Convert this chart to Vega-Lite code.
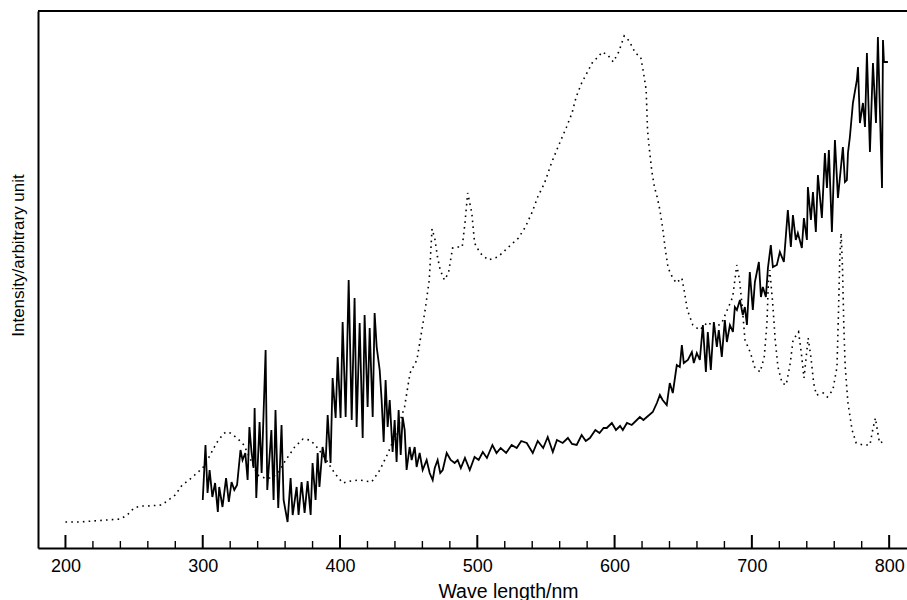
{
  "$schema": "https://vega.github.io/schema/vega-lite/v6.json",
  "width": 869,
  "height": 537,
  "autosize": {"type": "none"},
  "padding": {"left": 38, "top": 11, "right": 0, "bottom": 52},
  "background": "white",
  "config": {
    "view": {"stroke": null},
    "font": "Liberation Sans",
    "axis": {"domainColor": "black", "tickColor": "black", "labelColor": "black", "titleColor": "black", "grid": false}
  },
  "datasets": {
    "ticks": [
      {"wl": 200, "kind": "major"}, {"wl": 220, "kind": "minor"}, {"wl": 240, "kind": "minor"}, {"wl": 260, "kind": "minor"}, {"wl": 280, "kind": "minor"},
      {"wl": 300, "kind": "major"}, {"wl": 320, "kind": "minor"}, {"wl": 340, "kind": "minor"}, {"wl": 360, "kind": "minor"}, {"wl": 380, "kind": "minor"},
      {"wl": 400, "kind": "major"}, {"wl": 420, "kind": "minor"}, {"wl": 440, "kind": "minor"}, {"wl": 460, "kind": "minor"}, {"wl": 480, "kind": "minor"},
      {"wl": 500, "kind": "major"}, {"wl": 520, "kind": "minor"}, {"wl": 540, "kind": "minor"}, {"wl": 560, "kind": "minor"}, {"wl": 580, "kind": "minor"},
      {"wl": 600, "kind": "major"}, {"wl": 620, "kind": "minor"}, {"wl": 640, "kind": "minor"}, {"wl": 660, "kind": "minor"}, {"wl": 680, "kind": "minor"},
      {"wl": 700, "kind": "major"}, {"wl": 720, "kind": "minor"}, {"wl": 740, "kind": "minor"}, {"wl": 760, "kind": "minor"}, {"wl": 780, "kind": "minor"},
      {"wl": 800, "kind": "major"}
    ],
    "dotted": [
      {"wl": 200, "v": 26}, {"wl": 210, "v": 26}, {"wl": 220, "v": 27}, {"wl": 230, "v": 28}, {"wl": 240, "v": 29},
      {"wl": 245, "v": 33}, {"wl": 250, "v": 40}, {"wl": 255, "v": 42}, {"wl": 260, "v": 42}, {"wl": 270, "v": 43},
      {"wl": 275, "v": 48}, {"wl": 280, "v": 53}, {"wl": 285, "v": 63}, {"wl": 290, "v": 68}, {"wl": 295, "v": 74},
      {"wl": 300, "v": 80}, {"wl": 305, "v": 92}, {"wl": 310, "v": 105}, {"wl": 315, "v": 114}, {"wl": 317, "v": 116},
      {"wl": 320, "v": 115}, {"wl": 325, "v": 110}, {"wl": 330, "v": 103}, {"wl": 335, "v": 88}, {"wl": 340, "v": 73},
      {"wl": 345, "v": 70}, {"wl": 350, "v": 70}, {"wl": 355, "v": 75}, {"wl": 360, "v": 87}, {"wl": 367, "v": 101},
      {"wl": 373, "v": 109}, {"wl": 378, "v": 108}, {"wl": 382, "v": 103}, {"wl": 390, "v": 88}, {"wl": 396, "v": 75},
      {"wl": 402, "v": 65}, {"wl": 408, "v": 67}, {"wl": 414, "v": 68}, {"wl": 423, "v": 66}, {"wl": 429, "v": 78},
      {"wl": 435, "v": 95}, {"wl": 441, "v": 115}, {"wl": 447, "v": 141}, {"wl": 451, "v": 175}, {"wl": 456, "v": 188},
      {"wl": 460, "v": 221}, {"wl": 462, "v": 238}, {"wl": 465, "v": 268}, {"wl": 467, "v": 319}, {"wl": 469, "v": 310},
      {"wl": 471, "v": 291}, {"wl": 473, "v": 278}, {"wl": 476, "v": 268}, {"wl": 479, "v": 275}, {"wl": 482, "v": 300},
      {"wl": 486, "v": 301}, {"wl": 489, "v": 301}, {"wl": 491, "v": 325}, {"wl": 493, "v": 355}, {"wl": 496, "v": 335},
      {"wl": 498, "v": 305}, {"wl": 502, "v": 295}, {"wl": 508, "v": 288}, {"wl": 515, "v": 291}, {"wl": 522, "v": 300},
      {"wl": 530, "v": 310}, {"wl": 535, "v": 321}, {"wl": 540, "v": 336}, {"wl": 544, "v": 351}, {"wl": 549, "v": 365},
      {"wl": 554, "v": 385}, {"wl": 560, "v": 405}, {"wl": 565, "v": 421}, {"wl": 569, "v": 435}, {"wl": 572, "v": 451},
      {"wl": 576, "v": 465}, {"wl": 581, "v": 478}, {"wl": 584, "v": 486}, {"wl": 588, "v": 491}, {"wl": 591, "v": 496},
      {"wl": 595, "v": 493}, {"wl": 599, "v": 486}, {"wl": 603, "v": 496}, {"wl": 607, "v": 512}, {"wl": 610, "v": 508},
      {"wl": 613, "v": 501}, {"wl": 615, "v": 495}, {"wl": 619, "v": 491}, {"wl": 621, "v": 476}, {"wl": 623, "v": 458},
      {"wl": 624, "v": 418}, {"wl": 625, "v": 403}, {"wl": 627, "v": 378}, {"wl": 629, "v": 361}, {"wl": 631, "v": 351},
      {"wl": 633, "v": 338}, {"wl": 635, "v": 320}, {"wl": 637, "v": 298}, {"wl": 639, "v": 280}, {"wl": 642, "v": 271},
      {"wl": 645, "v": 265}, {"wl": 649, "v": 270}, {"wl": 651, "v": 255}, {"wl": 653, "v": 238}, {"wl": 657, "v": 223},
      {"wl": 662, "v": 218}, {"wl": 668, "v": 226}, {"wl": 673, "v": 220}, {"wl": 678, "v": 225}, {"wl": 683, "v": 241},
      {"wl": 686, "v": 251}, {"wl": 689, "v": 283}, {"wl": 691, "v": 268}, {"wl": 693, "v": 241}, {"wl": 695, "v": 208},
      {"wl": 699, "v": 195}, {"wl": 702, "v": 181}, {"wl": 706, "v": 176}, {"wl": 709, "v": 191}, {"wl": 711, "v": 225},
      {"wl": 712, "v": 265}, {"wl": 713, "v": 278}, {"wl": 715, "v": 248}, {"wl": 717, "v": 208}, {"wl": 719, "v": 181},
      {"wl": 722, "v": 165}, {"wl": 725, "v": 163}, {"wl": 728, "v": 185}, {"wl": 730, "v": 208}, {"wl": 734, "v": 216},
      {"wl": 736, "v": 195}, {"wl": 738, "v": 170}, {"wl": 741, "v": 210}, {"wl": 743, "v": 191}, {"wl": 745, "v": 165},
      {"wl": 747, "v": 153}, {"wl": 752, "v": 155}, {"wl": 755, "v": 151}, {"wl": 759, "v": 158}, {"wl": 762, "v": 181},
      {"wl": 763, "v": 231}, {"wl": 764, "v": 288}, {"wl": 765, "v": 315}, {"wl": 766, "v": 281}, {"wl": 767, "v": 221},
      {"wl": 768, "v": 181}, {"wl": 770, "v": 145}, {"wl": 773, "v": 118}, {"wl": 776, "v": 105}, {"wl": 781, "v": 103},
      {"wl": 786, "v": 103}, {"wl": 788, "v": 118}, {"wl": 790, "v": 130}, {"wl": 791, "v": 121}, {"wl": 793, "v": 105},
      {"wl": 795, "v": 106}
    ],
    "solid": [
      {"wl": 300, "v": 48}, {"wl": 302, "v": 103}, {"wl": 303.5, "v": 55}, {"wl": 305, "v": 78}, {"wl": 307, "v": 51},
      {"wl": 309, "v": 65}, {"wl": 311, "v": 36}, {"wl": 312, "v": 61}, {"wl": 314.4, "v": 41}, {"wl": 317, "v": 70},
      {"wl": 319, "v": 46}, {"wl": 321, "v": 66}, {"wl": 323, "v": 58}, {"wl": 325, "v": 63}, {"wl": 327.5, "v": 98},
      {"wl": 329, "v": 88}, {"wl": 331, "v": 95}, {"wl": 332.7, "v": 68}, {"wl": 334, "v": 121}, {"wl": 335.6, "v": 95},
      {"wl": 337, "v": 80}, {"wl": 337.8, "v": 140}, {"wl": 339, "v": 50}, {"wl": 341.4, "v": 126}, {"wl": 342.9, "v": 75},
      {"wl": 345.8, "v": 198}, {"wl": 347, "v": 58}, {"wl": 350, "v": 118}, {"wl": 351.6, "v": 48}, {"wl": 353, "v": 138},
      {"wl": 355, "v": 40}, {"wl": 357.4, "v": 123}, {"wl": 358.9, "v": 48}, {"wl": 361.8, "v": 26}, {"wl": 364, "v": 70},
      {"wl": 365.5, "v": 33}, {"wl": 368.4, "v": 61}, {"wl": 369.8, "v": 33}, {"wl": 372, "v": 66}, {"wl": 374.2, "v": 35},
      {"wl": 376.4, "v": 67}, {"wl": 378.6, "v": 33}, {"wl": 380, "v": 85}, {"wl": 382.2, "v": 48}, {"wl": 383.7, "v": 95},
      {"wl": 385, "v": 61}, {"wl": 387.3, "v": 101}, {"wl": 389.5, "v": 85}, {"wl": 391, "v": 133}, {"wl": 393.1, "v": 85},
      {"wl": 394.6, "v": 170}, {"wl": 396.8, "v": 130}, {"wl": 398.3, "v": 191}, {"wl": 400.4, "v": 130}, {"wl": 401.9, "v": 226},
      {"wl": 404.1, "v": 131}, {"wl": 406.3, "v": 268}, {"wl": 408.5, "v": 128}, {"wl": 410.6, "v": 250}, {"wl": 412.1, "v": 121},
      {"wl": 414.3, "v": 225}, {"wl": 416.5, "v": 110}, {"wl": 417.9, "v": 233}, {"wl": 420.1, "v": 141}, {"wl": 421.6, "v": 220},
      {"wl": 423.8, "v": 131}, {"wl": 425.2, "v": 235}, {"wl": 426.7, "v": 201}, {"wl": 428.9, "v": 178}, {"wl": 430.3, "v": 148},
      {"wl": 431.8, "v": 106}, {"wl": 433.2, "v": 168}, {"wl": 434.7, "v": 121}, {"wl": 436.2, "v": 148}, {"wl": 438.3, "v": 96},
      {"wl": 439.8, "v": 128}, {"wl": 441.2, "v": 86}, {"wl": 442.7, "v": 138}, {"wl": 444.2, "v": 93}, {"wl": 445.6, "v": 131},
      {"wl": 447.1, "v": 118}, {"wl": 448.5, "v": 78}, {"wl": 450.7, "v": 101}, {"wl": 452.2, "v": 88}, {"wl": 454.4, "v": 101},
      {"wl": 455.8, "v": 81}, {"wl": 458, "v": 95}, {"wl": 460.2, "v": 78}, {"wl": 463.1, "v": 88}, {"wl": 465.3, "v": 75},
      {"wl": 467.5, "v": 68}, {"wl": 469, "v": 80}, {"wl": 471.1, "v": 88}, {"wl": 473, "v": 75}, {"wl": 474.8, "v": 78},
      {"wl": 477.7, "v": 95}, {"wl": 480.6, "v": 88}, {"wl": 483.5, "v": 85}, {"wl": 485.7, "v": 88}, {"wl": 488, "v": 80},
      {"wl": 491, "v": 90}, {"wl": 494.5, "v": 78}, {"wl": 498, "v": 91}, {"wl": 501, "v": 88}, {"wl": 504, "v": 96},
      {"wl": 507, "v": 90}, {"wl": 511, "v": 103}, {"wl": 514, "v": 95}, {"wl": 517, "v": 100}, {"wl": 521, "v": 95},
      {"wl": 525, "v": 103}, {"wl": 528.7, "v": 100}, {"wl": 532, "v": 107}, {"wl": 536, "v": 105}, {"wl": 540.4, "v": 95},
      {"wl": 544, "v": 107}, {"wl": 548, "v": 100}, {"wl": 551.3, "v": 111}, {"wl": 555, "v": 96}, {"wl": 558, "v": 108},
      {"wl": 562.2, "v": 105}, {"wl": 566, "v": 110}, {"wl": 569, "v": 104}, {"wl": 572.4, "v": 103}, {"wl": 576, "v": 113},
      {"wl": 579, "v": 107}, {"wl": 582, "v": 110}, {"wl": 586, "v": 118}, {"wl": 589, "v": 115}, {"wl": 592, "v": 120},
      {"wl": 594.3, "v": 120}, {"wl": 598, "v": 125}, {"wl": 601, "v": 118}, {"wl": 604, "v": 122}, {"wl": 606, "v": 118},
      {"wl": 609, "v": 125}, {"wl": 612.5, "v": 123}, {"wl": 616.2, "v": 128}, {"wl": 618.4, "v": 131}, {"wl": 621, "v": 128},
      {"wl": 623.5, "v": 131}, {"wl": 627.8, "v": 136}, {"wl": 630.8, "v": 145}, {"wl": 633, "v": 153}, {"wl": 635, "v": 148},
      {"wl": 638, "v": 143}, {"wl": 640.2, "v": 165}, {"wl": 642.4, "v": 155}, {"wl": 645.3, "v": 183}, {"wl": 647.5, "v": 181},
      {"wl": 649, "v": 203}, {"wl": 650.4, "v": 185}, {"wl": 653.4, "v": 188}, {"wl": 656.3, "v": 196}, {"wl": 657.7, "v": 185},
      {"wl": 659.9, "v": 195}, {"wl": 662.1, "v": 188}, {"wl": 664.3, "v": 223}, {"wl": 666.5, "v": 176}, {"wl": 667.9, "v": 216},
      {"wl": 670.1, "v": 178}, {"wl": 672.3, "v": 226}, {"wl": 674.5, "v": 201}, {"wl": 675.9, "v": 218}, {"wl": 678.1, "v": 191},
      {"wl": 680.3, "v": 228}, {"wl": 681.8, "v": 206}, {"wl": 684, "v": 223}, {"wl": 686.2, "v": 216}, {"wl": 687.6, "v": 241},
      {"wl": 689.1, "v": 238}, {"wl": 691.3, "v": 248}, {"wl": 693.4, "v": 233}, {"wl": 694.9, "v": 241}, {"wl": 696.4, "v": 223},
      {"wl": 698.5, "v": 276}, {"wl": 700.7, "v": 238}, {"wl": 702.2, "v": 266}, {"wl": 705.1, "v": 286}, {"wl": 706.6, "v": 251},
      {"wl": 708, "v": 261}, {"wl": 710.2, "v": 251}, {"wl": 711.7, "v": 280}, {"wl": 713.8, "v": 303}, {"wl": 715.3, "v": 281},
      {"wl": 718.2, "v": 283}, {"wl": 720.4, "v": 296}, {"wl": 723.3, "v": 286}, {"wl": 726.2, "v": 338}, {"wl": 728.4, "v": 301},
      {"wl": 729.9, "v": 333}, {"wl": 732, "v": 308}, {"wl": 733.5, "v": 315}, {"wl": 736.4, "v": 300}, {"wl": 737.9, "v": 330},
      {"wl": 740.1, "v": 308}, {"wl": 740.8, "v": 361}, {"wl": 743, "v": 328}, {"wl": 744.5, "v": 356}, {"wl": 746.6, "v": 316},
      {"wl": 748.1, "v": 373}, {"wl": 751, "v": 330}, {"wl": 753.2, "v": 395}, {"wl": 754.7, "v": 360}, {"wl": 756.1, "v": 398},
      {"wl": 758.3, "v": 316}, {"wl": 760.5, "v": 408}, {"wl": 762.7, "v": 350}, {"wl": 766.3, "v": 401}, {"wl": 767.8, "v": 366},
      {"wl": 769.2, "v": 368}, {"wl": 770, "v": 395}, {"wl": 771.4, "v": 411}, {"wl": 773.6, "v": 445}, {"wl": 776.5, "v": 468},
      {"wl": 777.3, "v": 481}, {"wl": 778.7, "v": 425}, {"wl": 780.9, "v": 445}, {"wl": 782.4, "v": 421}, {"wl": 783.8, "v": 495},
      {"wl": 786, "v": 396}, {"wl": 788.2, "v": 485}, {"wl": 790.4, "v": 425}, {"wl": 791.8, "v": 511}, {"wl": 794.8, "v": 360},
      {"wl": 795.5, "v": 508}, {"wl": 796.2, "v": 486}, {"wl": 799.1, "v": 486}
    ]
  },
  "resolve": {"axis": {"x": "independent", "y": "independent"}},
  "layer": [
    {
      "data": {"name": "dotted"},
      "mark": {"type": "line", "color": "black", "strokeWidth": 1.6, "strokeDash": [1.6, 4.2], "strokeCap": "butt"},
      "encoding": {
        "x": {"field": "wl", "type": "quantitative", "scale": {"domain": [180, 813], "nice": false, "zero": false},
          "axis": {"orient": "bottom", "values": [200, 300, 400, 500, 600, 700, 800], "ticks": false,
            "domainWidth": 2, "labelFontSize": 18, "labelPadding": 9, "labelFlush": false, "title": "Wave length/nm",
            "titleFontSize": 19.5, "titleFontWeight": "normal", "titleX": 470, "titleY": 49, "titleAlign": "center", "titleBaseline": "alphabetic"}},
        "y": {"field": "v", "type": "quantitative", "scale": {"domain": [0, 537], "nice": false, "zero": false},
          "axis": {"orient": "left", "ticks": false, "labels": false, "domainWidth": 2, "title": "Intensity/arbitrary unit",
            "titleFontSize": 17, "titleFontWeight": "normal", "titleX": -20, "titleY": 244, "titleAngle": 270,
            "titleAlign": "center", "titleBaseline": "middle"}}
      }
    },
    {
      "data": {"name": "solid"},
      "mark": {"type": "line", "color": "black", "strokeWidth": 1.8},
      "encoding": {
        "x": {"field": "wl", "type": "quantitative", "axis": null},
        "y": {"field": "v", "type": "quantitative", "axis": null}
      }
    },
    {
      "data": {"name": "ticks"},
      "transform": [{"filter": "datum.kind === 'major'"}],
      "mark": {"type": "rule", "color": "black", "strokeWidth": 2},
      "encoding": {
        "x": {"field": "wl", "type": "quantitative", "axis": null},
        "y": {"datum": 0, "type": "quantitative", "axis": null},
        "y2": {"datum": 13}
      }
    },
    {
      "data": {"name": "ticks"},
      "transform": [{"filter": "datum.kind === 'minor'"}],
      "mark": {"type": "rule", "color": "black", "strokeWidth": 1.4},
      "encoding": {
        "x": {"field": "wl", "type": "quantitative", "axis": null},
        "y": {"datum": 0, "type": "quantitative", "axis": null},
        "y2": {"datum": 7}
      }
    },
    {
      "data": {"values": [{}]},
      "mark": {"type": "rule", "color": "black", "strokeWidth": 2},
      "encoding": {
        "x": {"datum": 180, "type": "quantitative", "axis": null},
        "x2": {"datum": 813},
        "y": {"datum": 537, "type": "quantitative", "axis": null}
      }
    }
  ]
}
